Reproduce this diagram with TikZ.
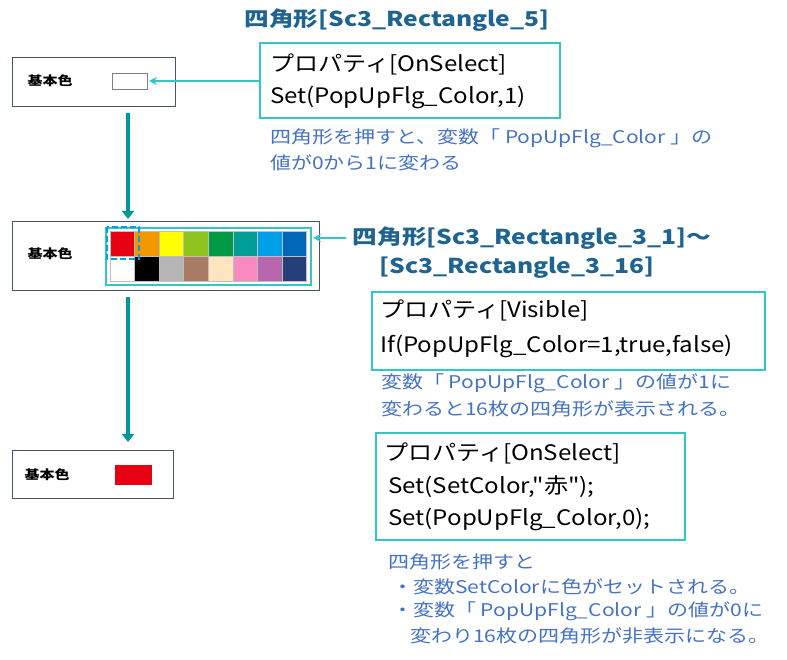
\documentclass[tikz,border=0pt]{standalone}
\usepackage{fontspec}
\setmainfont{Noto Sans CJK JP}
\newfontfamily\widef{Noto Sans CJK JP}[FakeStretch=1.2]
\newfontfamily\midf{Noto Sans CJK JP}[FakeStretch=1.13]
\usetikzlibrary{arrows.meta}
\definecolor{tealb}{HTML}{33C6C6}
\definecolor{darkt}{HTML}{009999}
\definecolor{ttl}{HTML}{1F6391}
\definecolor{bl}{HTML}{4472C4}
\definecolor{frm}{HTML}{44546A}
\definecolor{dashb}{HTML}{00A0E9}
\definecolor{redc}{HTML}{E60012}
\tikzset{x=1pt,y=-1pt,
 frame/.style={draw=frm,line width=0.8pt},
 pbox/.style={draw=tealb,line width=1.5pt},
 lbl/.style={font=\widef\fontsize{12.5}{14}\selectfont\bfseries,inner sep=0},
 ttlt/.style={font=\widef\fontsize{20.5}{24}\selectfont\bfseries,text=ttl,inner sep=0},
 code/.style={font=\midf\fontsize{21.3}{24}\selectfont,anchor=west,inner sep=0},
 note/.style={font=\widef\fontsize{17.5}{20}\selectfont,text=bl,anchor=west,inner sep=0},
 down/.style={darkt,line width=3.5pt,-{Triangle[length=8pt,width=12pt]}},
 side/.style={tealb,line width=1.5pt,-{Stealth[length=8pt,width=8pt]}}}
\begin{document}
\begin{tikzpicture}
\useasboundingbox (0,0) rectangle (787,660);
% box 1
\draw[frame] (12,57) rectangle (175,106);
\node[lbl] (l1) at (50,81) {基本色};
\draw[gray,line width=0.8pt,fill=white] (112,73) rectangle (147,89);
\coordinate (w1) at (149,81);
\node[ttlt] (t1) at (397,20) {四角形[Sc3\_Rectangle\_5]};
\draw[pbox] (260,43) rectangle (560,118);
\coordinate (p1) at (260,81);
\node[code] (c1a) at (270,64) {プロパティ[OnSelect]};
\node[code] (c1b) at (270,97) {Set(PopUpFlg\_Color,1)};
\draw[side] (p1) -- (w1);
\node[note] (n1a) at (270,138) {四角形を押すと、変数「 PopUpFlg\_Color 」の};
\node[note] (n1b) at (270,163) {値が0から1に変わる};
\coordinate (d1a) at (128,113); \coordinate (d1b) at (128,219);
\draw[down] (d1a) -- (d1b);
% box 2
\draw[frame] (12,221) rectangle (319,290);
\node[lbl] (l2) at (50,254) {基本色};
\foreach \c [count=\i from 0] in {E60012,F39800,FFFF00,8FC31F,009944,009E96,00A0E9,0068B7}{
 \definecolor{cc}{HTML}{\c}
 \filldraw[fill=cc,draw=lightgray,line width=1pt] (110+\i*24.6,232) rectangle ++(24.6,25);}
\foreach \c [count=\i from 0] in {FFFFFF,000000,B5B5B5,A97B64,FFE4C0,F88ABF,B767AE,253F7A}{
 \definecolor{cc}{HTML}{\c}
 \filldraw[fill=cc,draw=lightgray,line width=1pt] (110+\i*24.6,257) rectangle ++(24.6,25);}
\draw[tealb,line width=1.5pt] (106,228) rectangle (311,285);
\draw[dashb,line width=2pt,dash pattern=on 6pt off 3pt] (107,227) rectangle (139,259);
\node[ttlt] (t2a) at (532,238) {四角形[Sc3\_Rectangle\_3\_1]～};
\node[ttlt] (t2b) at (517,268) {[Sc3\_Rectangle\_3\_16]};
\coordinate (g2) at (313,238); \coordinate (s2) at (346,238);
\draw[side] (s2) -- (g2);
\draw[pbox] (372,292) rectangle (765,370);
\node[code] (c2a) at (380,310) {プロパティ[Visible]};
\node[code] (c2b) at (380,346) {If(PopUpFlg\_Color=1,true,false)};
\node[note] (n2a) at (381,383) {変数「 PopUpFlg\_Color 」の値が1に};
\node[note] (n2b) at (381,409) {変わると16枚の四角形が表示される。};
\coordinate (d2a) at (128,297); \coordinate (d2b) at (128,442);
\draw[down] (d2a) -- (d2b);
% box 3
\draw[frame] (12,450) rectangle (173,498);
\node[lbl] (l3) at (47,475) {基本色};
\fill[redc] (115,465) rectangle (152,485);
\draw[pbox] (376,433) rectangle (685,540);
\node[code] (c3a) at (384,453) {プロパティ[OnSelect]};
\node[code] (c3b) at (388,487) {Set(SetColor,\symbol{34}赤\symbol{34});};
\node[code] (c3c) at (388,519) {Set(PopUpFlg\_Color,0);};
\node[note] (n3a) at (388,562) {四角形を押すと};
\node[note] (n3b) at (392,587) {・変数SetColorに色がセットされる。};
\node[note] (n3c) at (392,611) {・変数「 PopUpFlg\_Color 」の値が0に};
\node[note] (n3d) at (410,636) {変わり16枚の四角形が非表示になる。};
\end{tikzpicture}
\end{document}
